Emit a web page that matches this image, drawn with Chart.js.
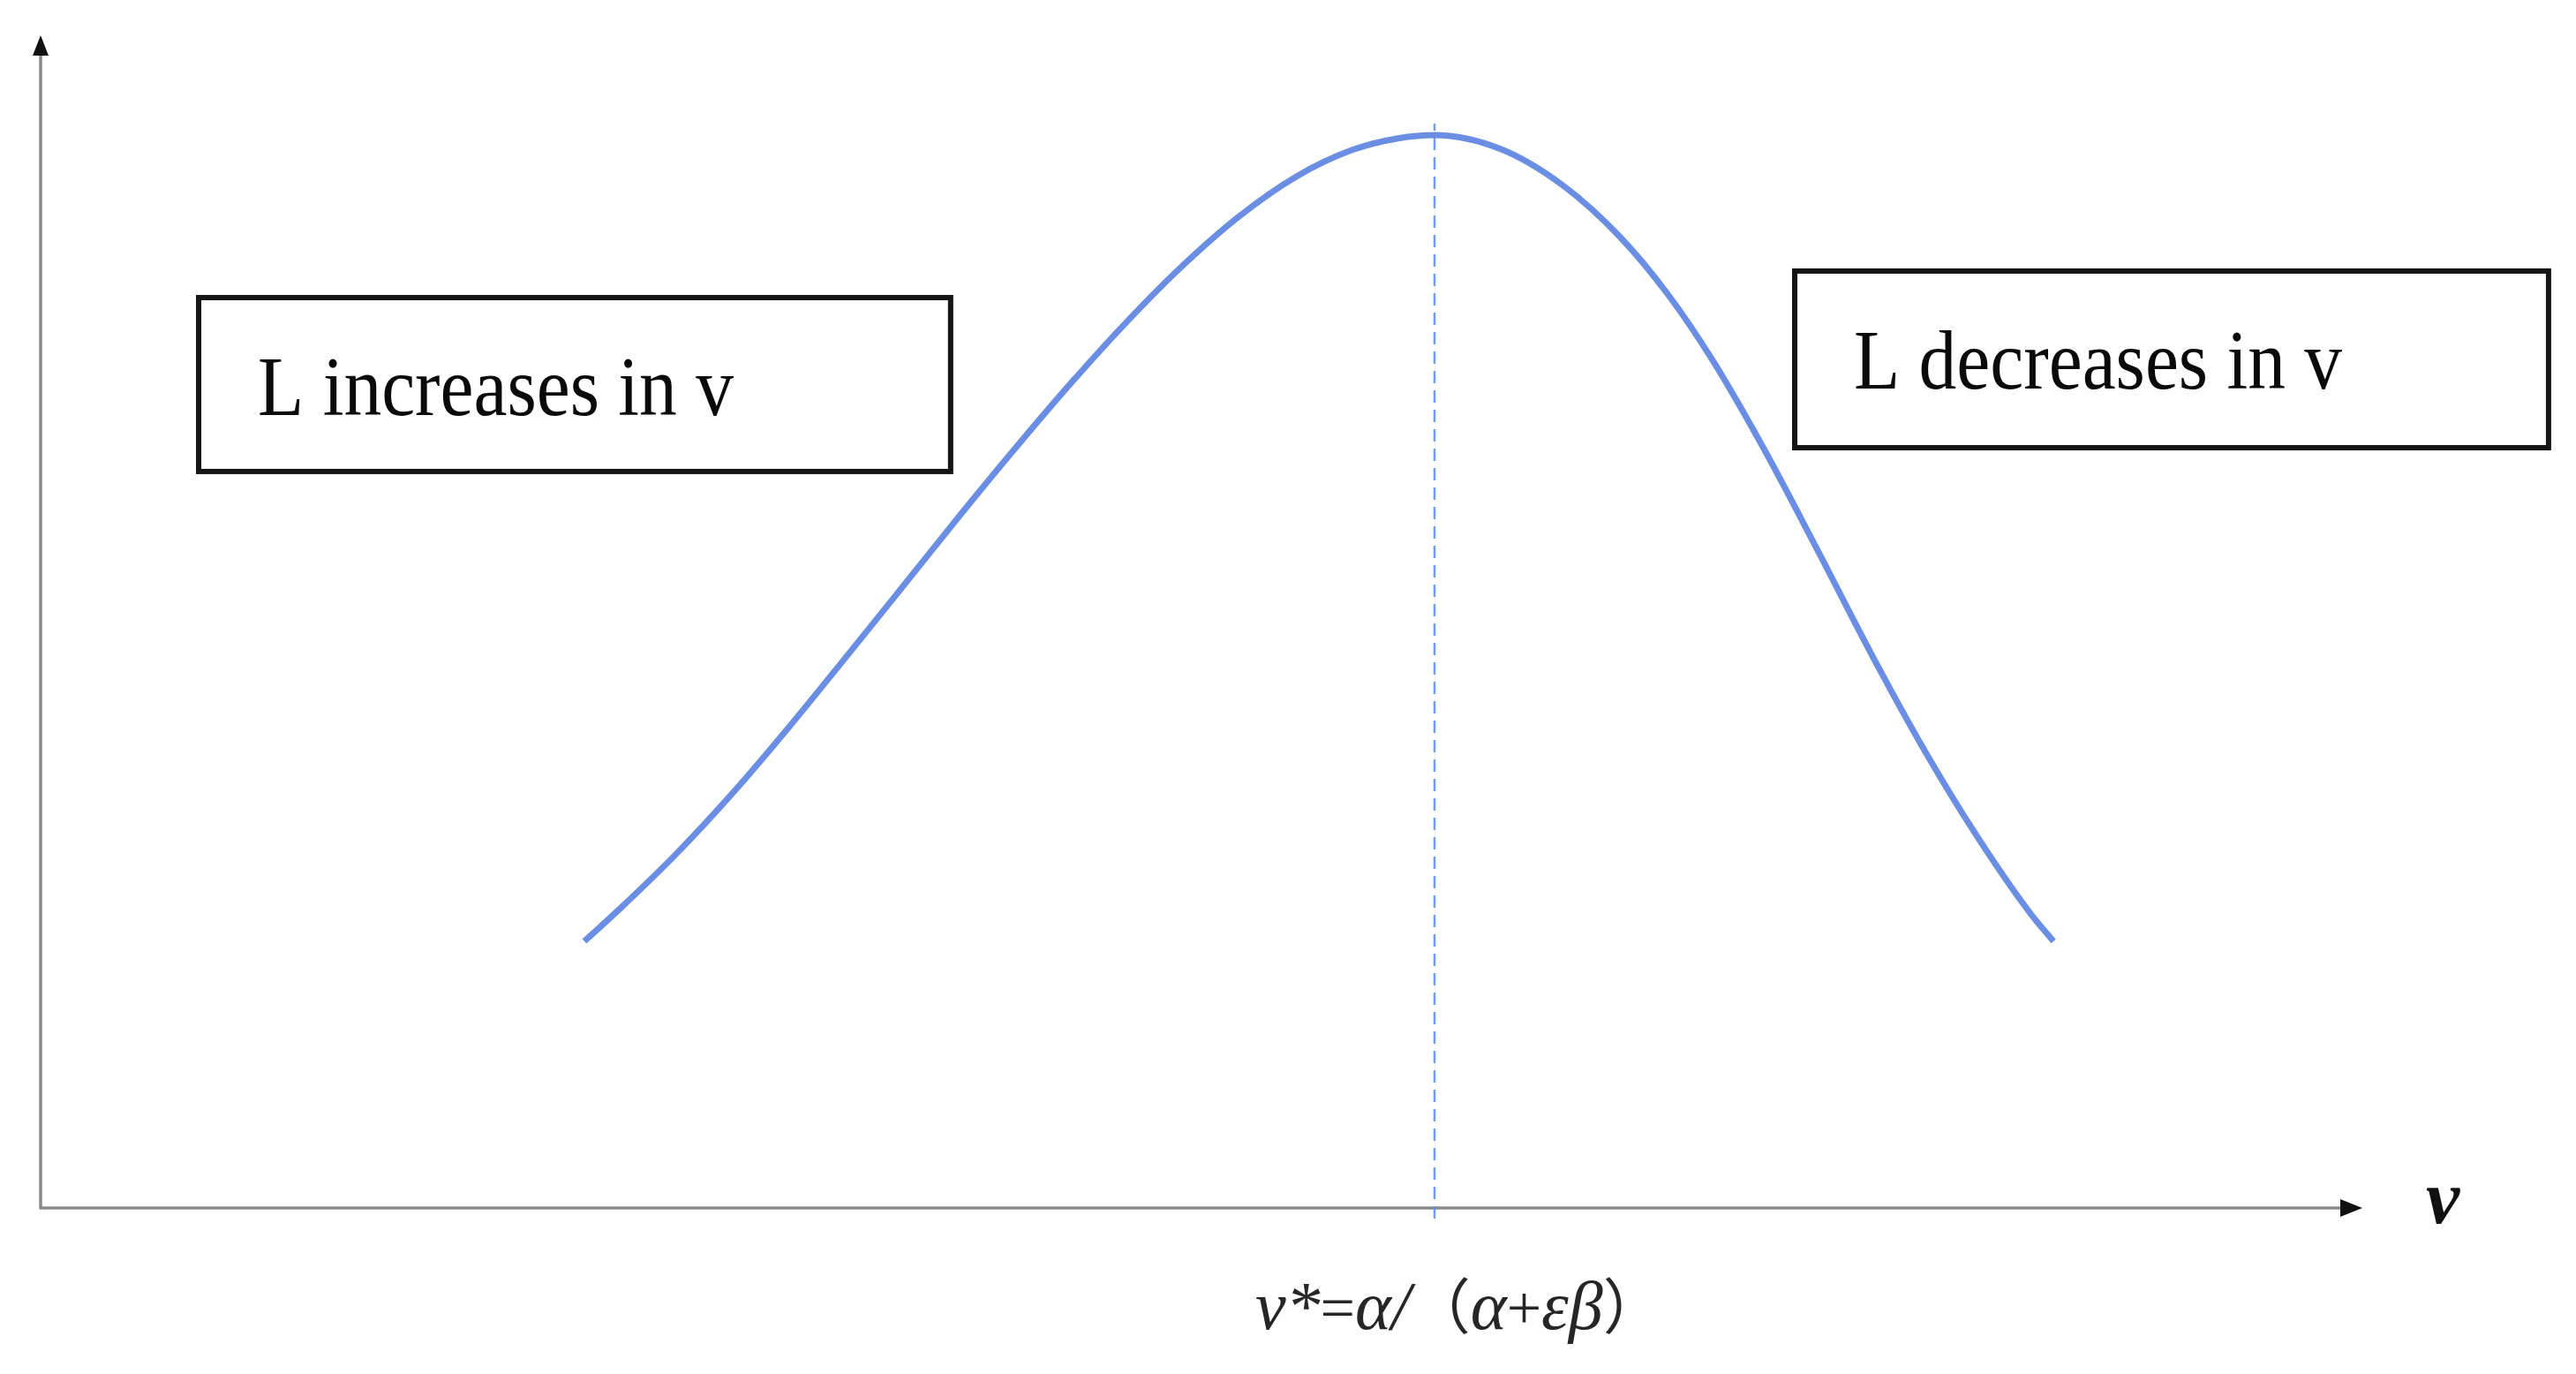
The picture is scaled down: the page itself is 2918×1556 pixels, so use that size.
<!DOCTYPE html>
<html>
<head>
<meta charset="utf-8">
<script src="https://cdn.jsdelivr.net/npm/chart.js@4/dist/chart.umd.min.js"></script>
<style>
  html, body { margin: 0; padding: 0; background: #ffffff; }
  #wrap { width: 2918px; height: 1556px; position: relative; }
  canvas { display: block; }
</style>
</head>
<body>
<div id="wrap"><canvas id="c" width="2918" height="1556"></canvas></div>
<script>
// ---- data (axis units 0..100) ----
const curveV = [23.43, 25.01, 27.43, 29.86, 32.29, 34.71, 37.14, 39.56, 41.99, 44.41, 46.84,
                49.27, 51.69, 54.12, 56.54, 58.48, 60.06,
                62.91, 65.58, 68.05, 70.14, 72.04, 74.32, 76.61, 78.89, 81.17, 83.45,
                85.74, 86.73];
const curveL = [22.78, 25.65, 30.33, 35.53, 41.18, 47.07, 53.05, 59.03, 64.87, 70.48, 75.77,
                80.60, 84.77, 88.11, 90.38, 91.35, 91.63,
                90.44, 87.35, 82.94, 77.96, 72.40, 64.59, 56.00, 47.28, 39.09, 31.70,
                25.14, 22.78];
const vStar = 60.06;
const vStarLine = [-0.9, 92.6];
const boxTexts = ['L increases in v', 'L decreases in v'];
const axisLabelX = 'v';
const vStarLabel = 'v*=α/（α+εβ）';

const curvePts = curveV.map((v, i) => ({ x: v, y: curveL[i] }));
const dashPts = vStarLine.map(y => ({ x: vStar, y: y }));

const overlay = {
  id: 'overlay',
  beforeDatasetsDraw(chart) {
    const ctx = chart.ctx;
    const xs = chart.scales.x, ys = chart.scales.y;
    const x0 = xs.getPixelForValue(0), x1 = xs.getPixelForValue(100);
    const y0 = ys.getPixelForValue(0), y1 = ys.getPixelForValue(100);
    ctx.save();
    ctx.strokeStyle = '#8a8a8a';
    ctx.lineWidth = 3.5;
    ctx.beginPath();
    ctx.moveTo(x0, y0 + 1);
    ctx.lineTo(x0, y1 + 18);
    ctx.moveTo(x0 - 1, y0);
    ctx.lineTo(x1 - 18, y0);
    ctx.stroke();
    ctx.fillStyle = '#111111';
    ctx.beginPath();
    ctx.moveTo(x0, y1 - 2);
    ctx.lineTo(x0 - 9, y1 + 21);
    ctx.lineTo(x0 + 9, y1 + 21);
    ctx.closePath();
    ctx.fill();
    ctx.beginPath();
    ctx.moveTo(x1 + 1, y0);
    ctx.lineTo(x1 - 24, y0 - 10);
    ctx.lineTo(x1 - 24, y0 + 10);
    ctx.closePath();
    ctx.fill();
    ctx.restore();
  },
  afterDatasetsDraw(chart) {
    const ctx = chart.ctx;
    const xs = chart.scales.x, ys = chart.scales.y;
    const y0 = ys.getPixelForValue(0);
    const x1 = xs.getPixelForValue(100);
    ctx.save();
    const boxes = [
      { l: 6.81, r: 39.21, t: 77.75, b: 62.90, text: boxTexts[0] },
      { l: 75.58, r: 108.06, t: 80.02, b: 64.93, text: boxTexts[1] }
    ];
    boxes.forEach(bx => {
      const L = xs.getPixelForValue(bx.l), R = xs.getPixelForValue(bx.r);
      const T = ys.getPixelForValue(bx.t), B = ys.getPixelForValue(bx.b);
      ctx.fillStyle = '#ffffff';
      ctx.fillRect(L, T, R - L, B - T);
      ctx.strokeStyle = '#151515';
      ctx.lineWidth = 6;
      ctx.strokeRect(L, T, R - L, B - T);
      ctx.save();
      ctx.font = '95px "Liberation Serif", "Times New Roman", serif';
      ctx.fillStyle = '#0a0a0a';
      ctx.textAlign = 'left';
      ctx.textBaseline = 'alphabetic';
      ctx.translate(L + 67, T + 133);
      ctx.scale(0.9, 1);
      ctx.fillText(bx.text, 0, 0);
      ctx.restore();
    });
    // axis label
    ctx.font = 'italic bold 86px "Liberation Serif", "Times New Roman", serif';
    ctx.fillStyle = '#111111';
    ctx.textAlign = 'left';
    ctx.textBaseline = 'alphabetic';
    ctx.fillText(axisLabelX, x1 + 73, y0 + 17);
    // v* label, upright for operators/brackets, italic for symbols
    const italicFont = 'italic 78px "Liberation Serif", serif';
    const uprightFont = '70px "Liberation Serif", serif';
    const cjkFont = '68px "Noto Sans CJK SC", serif';
    let px = xs.getPixelForValue(vStar) - 203;
    const base = y0 + 137;
    ctx.fillStyle = '#262626';
    for (const ch of vStarLabel) {
      if (ch === '（' || ch === '）') ctx.font = cjkFont;
      else if (ch === '=' || ch === '+') ctx.font = uprightFont;
      else ctx.font = italicFont;
      ctx.fillText(ch, px, base);
      px += ctx.measureText(ch).width;
    }
    ctx.restore();
  }
};

new Chart(document.getElementById('c'), {
  type: 'scatter',
  data: {
    datasets: [
      {
        data: curvePts,
        showLine: true,
        borderColor: 'rgb(106,142,228)',
        borderWidth: 7,
        pointRadius: 0,
        cubicInterpolationMode: 'monotone',
        fill: false,
        clip: false
      },
      {
        data: dashPts,
        showLine: true,
        borderColor: 'rgba(100,145,235,0.9)',
        borderWidth: 2.5,
        borderDash: [14, 8],
        pointRadius: 0,
        fill: false,
        clip: false
      }
    ]
  },
  options: {
    responsive: false,
    maintainAspectRatio: false,
    devicePixelRatio: 1,
    animation: false,
    events: [],
    layout: { padding: { left: 46, top: 42, right: 243, bottom: 188 } },
    scales: {
      x: { type: 'linear', min: 0, max: 100, display: false },
      y: { type: 'linear', min: 0, max: 100, display: false }
    },
    plugins: { legend: { display: false }, tooltip: { enabled: false } }
  },
  plugins: [overlay]
});
</script>
</body>
</html>
